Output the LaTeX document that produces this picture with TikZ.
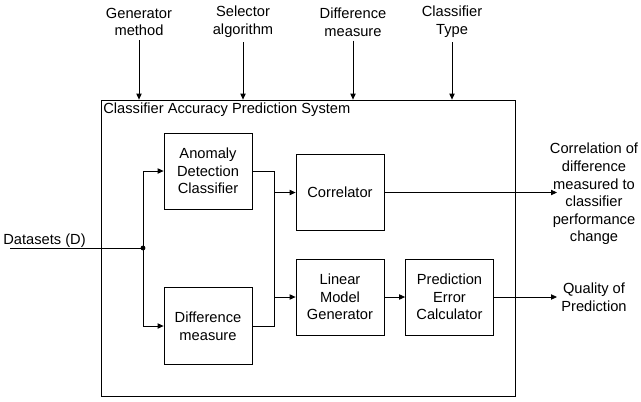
\documentclass[tikz,border=0pt]{standalone}
\usepackage{fontspec}
\setmainfont{Liberation Sans}
\usepackage{tikz}
\usetikzlibrary{arrows.meta}

\begin{document}
\begin{tikzpicture}[x=0.75pt,y=-0.75pt,line width=0.6pt,
  >={Triangle[length=4.5pt,width=4pt]},
  every node/.style={font=\fontsize{11}{13.2}\selectfont,align=center},
  blk/.style={draw,minimum width=66pt,minimum height=57pt,inner sep=2pt},
  lbl/.style={inner sep=3pt}]
\useasboundingbox (0,0) rectangle (641,401);
% outer system box
\node[draw,minimum width=311pt,minimum height=222pt,inner sep=0pt] (sys) at (308.5,248) {};
\node[anchor=west,inner sep=0pt] (title) at (103,110) {Classifier Accuracy Prediction System};
% inputs on top
\node[lbl] (gen) at (139,22) {Generator\\method};
\node[lbl] (sel) at (243,22) {Selector\\algorithm};
\node[lbl] (dif) at (353,22) {Difference\\measure};
\node[lbl] (typ) at (452,22) {Classifier\\Type};
\draw[->](gen.south)--(gen.south|-sys.north);
\draw[->](sel.south)--(sel.south|-sys.north);
\draw[->](dif.south)--(dif.south|-sys.north);
\draw[->](typ.south)--(typ.south|-sys.north);
% blocks
\node[blk] (anom) at (208,171) {Anomaly\\Detection\\Classifier};
\node[blk,minimum height=58pt] (diff) at (208,326) {Difference\\measure};
\node[blk] (corr) at (340,192.5) {Correlator};
\node[blk] (lin) at (340,297) {Linear\\Model\\Generator};
\node[blk] (pred) at (449.5,297) {Prediction\\Error\\Calculator};
% datasets input
\coordinate (dsin) at (10,248);
\coordinate (j) at (143,248);
\node[anchor=base west,inner sep=0pt] (dslbl) at (3,244) {Datasets (D)};
\draw(dsin)--(j);
\fill(j)circle(2.4);
\draw[->](j)|-(anom.west);
\draw[->](j)|-(diff.west);
% bus to correlator and model
\coordinate (bus) at (274,248);
\draw(anom.east)-|(bus|-diff.east)--(diff.east);
\draw[->](bus|-corr.west)--(corr.west);
\draw[->](bus|-lin.west)--(lin.west);
\draw[->](lin)--(pred);
% outputs
\node[lbl] (corrout) at (594,194) {Correlation of\\difference\\measured to\\classifier\\performance\\change};
\node[lbl] (qual) at (594,297) {Quality of\\Prediction};
\coordinate (ctip) at (557,192.5);
\draw[->](corr.east)--(ctip);
\draw[->](pred.east)--(qual.west);
\end{tikzpicture}
\end{document}
